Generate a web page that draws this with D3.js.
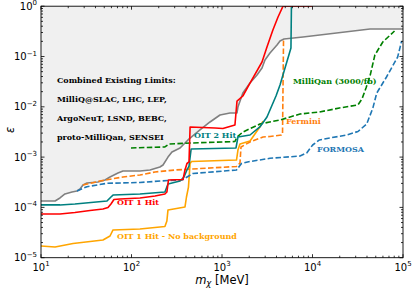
<!DOCTYPE html>
<html><head><meta charset="utf-8">
<script src="https://cdn.jsdelivr.net/npm/d3@7"></script>
<style>body{margin:0;background:#fff}</style>
</head><body>
<svg id="c" width="415" height="289"></svg>
<script>
// ---- data (mass in MeV, epsilon) ----
const existingMass = [10,14.3,16.2,18.4,22,25,27,29.1,32.2,42.6,51,57.9,70.9,80.5,124,160,206,223,253,280,344,421,571,737,950,1225,1465,1500,1700,2038,2437,2768,2985,3390,4052,4375,4842,7850,43200,100000];
const existingEps  = [1.34e-4,1.34e-4,1.54e-4,1.85e-4,2.02e-4,2.12e-4,2.32e-4,2.79e-4,3.05e-4,3.2e-4,3.5e-4,4.02e-4,4.83e-4,5.29e-4,5.29e-4,5.54e-4,6.35e-4,6.97e-4,1.0e-3,1.26e-3,1.52e-3,2.19e-3,3.46e-3,4.99e-3,6.87e-3,7.53e-3,7.53e-3,9.9e-3,0.0188,0.0297,0.0429,0.059,0.0851,0.117,0.169,0.203,0.223,0.244,0.352,0.352];

const oit1Mass = [10,16.2,23.7,34.8,48.4,55,59.3,64,74.6,124,182,234,246,256,371,390,410,432,444,837,1023,1390,1465,1700,2038,2768,3140,3650,4160,4720,10040];
const oit1Eps  = [7.4e-5,7.4e-5,7.9e-5,8.7e-5,9.3e-5,9.95e-5,1.17e-4,1.44e-4,1.47e-4,1.54e-4,1.69e-4,1.85e-4,2.02e-4,3.5e-4,3.59e-4,5.54e-4,7.46e-4,8.0e-4,3.97e-3,3.79e-3,3.7e-3,4.35e-3,0.013,0.0164,0.0297,0.0778,0.154,0.336,0.61,1.0,1.0];

const oit2Mass = [10,16.2,23.7,53.6,59.3,62.5,124,234,253,344,380,410,432,456,1428,1500,2038,2620,3140,3390,3950,4375,4970,5780,5850];
const oit2Eps  = [1.12e-4,1.12e-4,1.17e-4,1.34e-4,1.61e-4,1.76e-4,1.85e-4,2.02e-4,2.92e-4,3.35e-4,4.02e-4,5.54e-4,6.65e-4,1.45e-3,1.52e-3,2.51e-3,2.75e-3,3.97e-3,6.27e-3,8.63e-3,0.0164,0.0271,0.059,0.148,1.0];

const noBkgMass = [10,14.3,22.6,48.4,57.9,62.5,124,234,246,253,390,405,426,444,460,1446,1500,1580,2038,2620,2840];
const noBkgEps  = [1.71e-5,1.63e-5,1.91e-5,2.25e-5,2.7e-5,3.56e-5,3.72e-5,4.17e-5,5.37e-5,8.9e-5,1.02e-4,1.61e-4,2.54e-4,7.46e-4,8.17e-4,8.75e-4,1.38e-3,1.82e-3,2.09e-3,3.97e-3,5.22e-3];

const ferminiMass = [29.1,44.9,80.5,124,182,302,468,1446,1580,1622,2038,2840,3390,4542,4664,4784];
const ferminiEps  = [2.79e-4,3.35e-4,4.02e-4,4.41e-4,5.06e-4,5.54e-4,5.8e-4,6.5e-4,7.6e-4,1.59e-3,2.0e-3,2.51e-3,2.57e-3,2.75e-3,2.88e-3,0.213];

const formosaMass = [25,32.2,53.6,124,253,361,478,1446,1642,2038,3390,7280,8630,10040,11930,15500,24050,31800,39700,46500,51300,65700,87300,96600];
const formosaEps  = [2.12e-4,2.58e-4,3.01e-4,3.13e-4,3.43e-4,3.5e-4,4.72e-4,5.54e-4,7.46e-4,8.17e-4,9.46e-4,1.05e-3,1.21e-3,1.74e-3,2.19e-3,2.4e-3,2.75e-3,3.23e-3,4.55e-3,9.5e-3,0.0188,0.0391,0.0977,0.203];

const milliqanMass = [98.7,234,260,468,1390,1465,1700,2620,4375,7280,11930,19800,31800,35200,39000,43200,48900,59800,80600];
const milliqanEps  = [1.52e-3,1.59e-3,1.82e-3,1.91e-3,2.04e-3,2.51e-3,3.15e-3,4.55e-3,5.47e-3,7.19e-3,7.88e-3,9.46e-3,0.0109,0.0143,0.0236,0.0409,0.107,0.194,0.321];

const xTickValues = [1e1,1e2,1e3,1e4,1e5];
const xTickExps   = ["1","2","3","4","5"];
const yTickValues = [1e-5,1e-4,1e-3,1e-2,1e-1,1];
const yTickExps   = ["\u22125","\u22124","\u22123","\u22122","\u22121","0"];

const existingText = ["Combined Existing Limits:","MilliQ@SLAC, LHC, LEP,","ArgoNeuT, LSND, BEBC,","proto-MilliQan, SENSEI"];
const existingTextEps = [0.0297, 0.01245, 0.00522, 0.00219];

// ---- layout ----
const L = 41, T = 6.2, R = 403, B = 257.7;
const svg = d3.select("#c");
const x = d3.scaleLog().domain([10, 1e5]).range([L, R]);
const y = d3.scaleLog().domain([1e-5, 1]).range([B, T]);

svg.append("defs").append("clipPath").attr("id","clip")
  .append("rect").attr("x",L).attr("y",T).attr("width",R-L).attr("height",B-T);
const g = svg.append("g").attr("clip-path","url(#clip)");

const zip = (ms, es) => ms.map((m,i)=>[m, es[i]]);
const line = d3.line().x(d=>x(d[0])).y(d=>y(d[1]));

// shaded existing region
const area = d3.area().x(d=>x(d[0])).y0(y(1)).y1(d=>y(d[1]));
g.append("path").datum(zip(existingMass, existingEps)).attr("d", area).attr("fill","#f0f0f0");

function draw(ms, es, color, dash){
  g.append("path").datum(zip(ms, es)).attr("d", line)
    .attr("fill","none").attr("stroke",color).attr("stroke-width",1.6)
    .attr("stroke-linejoin","round")
    .attr("stroke-dasharray", dash ? "5.5,2.4" : null);
}
draw(existingMass, existingEps, "#808080", false);
draw(noBkgMass, noBkgEps, "#ffa500", false);
draw(ferminiMass, ferminiEps, "#ff7f0e", true);
draw(formosaMass, formosaEps, "#1f77b4", true);
draw(milliqanMass, milliqanEps, "#008000", true);
draw(oit2Mass, oit2Eps, "#008080", false);
draw(oit1Mass, oit1Eps, "#ff0000", false);

// ---- axes frame and ticks (inward, all sides) ----
const ax = svg.append("g");
ax.append("rect").attr("x",L).attr("y",T).attr("width",R-L).attr("height",B-T)
  .attr("fill","none").attr("stroke","#000").attr("stroke-width",0.9);

function minorVals(lo, hi){
  const out=[];
  for(let p=lo;p<hi;p++){ for(let k=2;k<=9;k++) out.push(k*Math.pow(10,p)); }
  return out;
}
const xMinor = minorVals(1,5), yMinor = minorVals(-5,0);
const tk = (x1,y1,x2,y2)=>ax.append("line").attr("x1",x1).attr("y1",y1).attr("x2",x2).attr("y2",y2).attr("stroke","#000").attr("stroke-width",0.8);
xTickValues.forEach(v=>{ const px=x(v); tk(px,B,px,B-3.5); tk(px,T,px,T+3.5); });
xMinor.forEach(v=>{ const px=x(v); tk(px,B,px,B-2); tk(px,T,px,T+2); });
yTickValues.forEach(v=>{ const py=y(v); tk(L,py,L+3.5,py); tk(R,py,R-3.5,py); });
yMinor.forEach(v=>{ const py=y(v); tk(L,py,L+2,py); tk(R,py,R-2,py); });

// tick labels
const font = "DejaVu Sans, sans-serif";
xTickValues.forEach((v,i)=>{
  const t = ax.append("text").attr("x", x(v)).attr("y", 270.5).attr("text-anchor","middle")
    .attr("font-family",font).attr("font-size",10).attr("fill","#000");
  t.append("tspan").text("10");
  t.append("tspan").attr("dy",-4.5).attr("font-size",7).text(xTickExps[i]);
});
yTickValues.forEach((v,i)=>{
  const t = ax.append("text").attr("x", 37).attr("y", y(v)+3.5).attr("text-anchor","end")
    .attr("font-family",font).attr("font-size",10).attr("fill","#000");
  t.append("tspan").text("10");
  t.append("tspan").attr("dy",-4.5).attr("font-size",7).text(yTickExps[i]);
});

// axis labels
const xl = ax.append("text").attr("x",222).attr("y",283.5).attr("text-anchor","middle")
  .attr("font-family",font).attr("font-size",11.5).attr("fill","#000");
xl.append("tspan").attr("font-style","italic").text("m");
xl.append("tspan").attr("font-style","italic").attr("font-size",8.5).attr("dy",2.5).text("\u03c7");
xl.append("tspan").attr("dy",-2.5).text(" [MeV]");
ax.append("text").attr("transform","translate(14,130) rotate(-90)").attr("text-anchor","middle")
  .attr("font-family",font).attr("font-size",11.5).attr("font-style","italic").text("\u03b5");

// annotations (data coordinates)
const serif = "DejaVu Serif, serif";
function note(txt, mx, ey, color){
  ax.append("text").attr("x", x(mx)).attr("y", y(ey)).attr("font-family",serif)
    .attr("font-weight","bold").attr("font-size",8).attr("fill",color).text(txt);
}
existingText.forEach((t,i)=> note(t, 15, existingTextEps[i], "#000"));
note("OIT 2 Hit", 491, 2.45e-3, "#008080");
note("OIT 1 Hit", 69, 1.1e-4, "#ff0000");
note("OIT 1 Hit - No background", 69, 2.4e-5, "#ffa500");
note("MilliQan (3000/fb)", 6090, 0.0284, "#008000");
note("Fermini", 5090, 4.45e-3, "#ff7f0e");
note("FORMOSA", 11200, 1.26e-3, "#1f77b4");
</script>
</body></html>
